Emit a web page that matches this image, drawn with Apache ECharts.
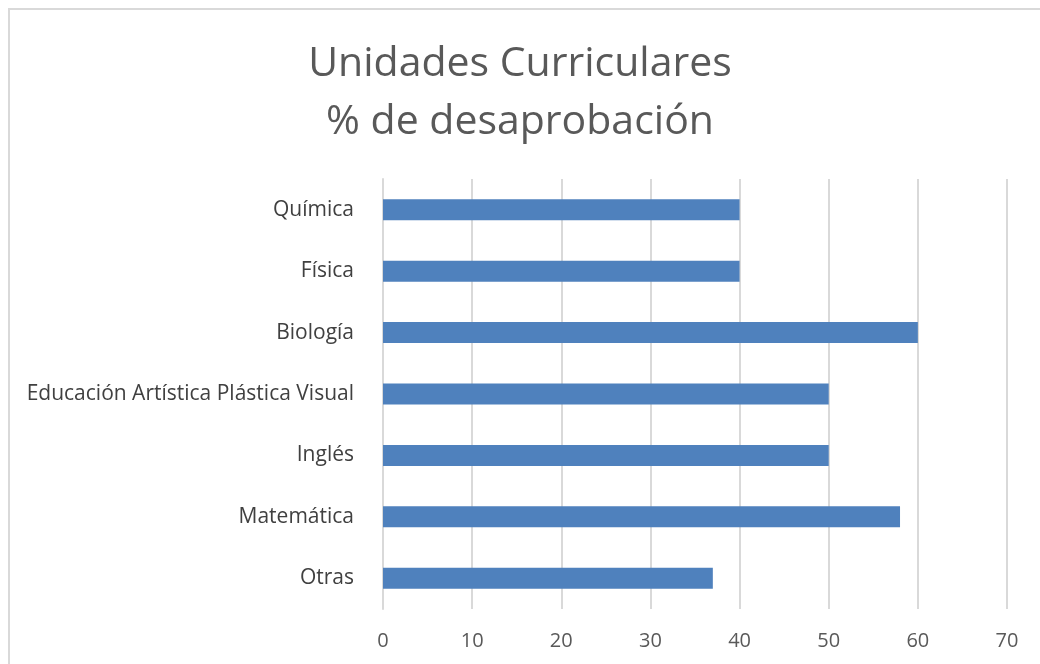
<!DOCTYPE html>
<html>
<head>
<meta charset="utf-8">
<script src="https://cdn.jsdelivr.net/npm/echarts@6/dist/echarts.min.js"></script>
<style>
  html, body { margin: 0; padding: 0; background: #fff; }
  #frame { position: absolute; left: 8px; top: 8px; width: 1100px; height: 700px; border: 2px solid #d9d9d9; box-sizing: border-box; }
  #chart { position: absolute; left: 0; top: 0; width: 1040px; height: 664px; }
</style>
</head>
<body>
<div id="frame"></div>
<div id="chart"></div>
<script>
// categories from bottom to top (ECharts category y axis starts at bottom)
const categories = ['Otras', 'Matemática', 'Inglés', 'Educación Artística Plástica Visual', 'Biología', 'Física', 'Química'];
const values = [37, 58, 50, 50, 60, 40, 40];
const xTicks = { min: 0, max: 70, interval: 10 };

let instance = echarts.init(document.getElementById('chart'));
instance.setOption({
  animation: false,
  title: {
    text: 'Unidades Curriculares\n% de desaprobación',
    left: 'center',
    top: 30,
    textStyle: {
      fontFamily: 'Open Sans',
      fontWeight: 'normal',
      fontSize: 41,
      lineHeight: 58,
      color: '#595959'
    }
  },
  grid: { left: 383, right: 33, top: 179, bottom: 55 },
  xAxis: {
    type: 'value',
    min: xTicks.min,
    max: xTicks.max,
    interval: xTicks.interval,
    axisLine: { show: false },
    axisTick: { show: false },
    splitLine: { lineStyle: { color: '#d9d9d9', width: 2 } },
    axisLabel: { color: '#595959', fontSize: 20, fontFamily: 'Open Sans', margin: 22 }
  },
  yAxis: {
    type: 'category',
    data: categories,
    axisLine: { show: true, lineStyle: { color: '#d9d9d9', width: 2 } },
    axisTick: { show: false },
    axisLabel: { color: '#404040', fontSize: 21, fontFamily: 'Open Sans', margin: 29, padding: [2, 0, 0, 0] }
  },
  series: [{
    type: 'bar',
    data: values,
    barWidth: 21,
    itemStyle: { color: '#4f81bd' }
  }]
});
</script>
</body>
</html>
